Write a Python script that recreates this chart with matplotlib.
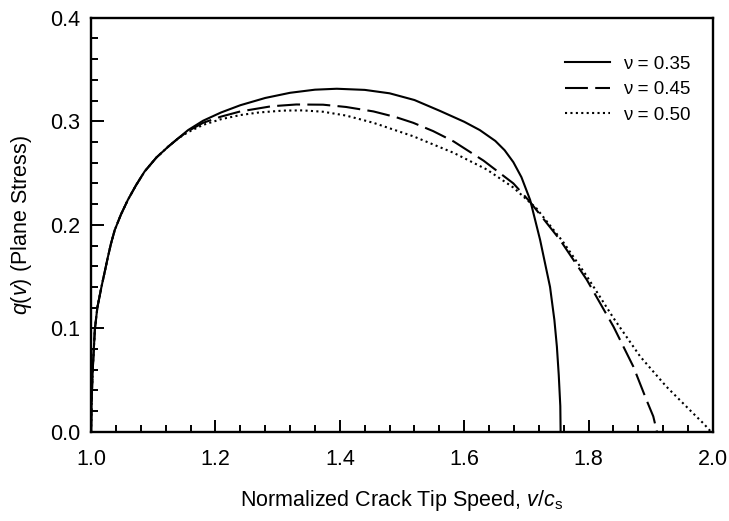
import numpy as np
import matplotlib.pyplot as plt
from matplotlib.ticker import MultipleLocator

plt.rcParams['font.family'] = ['Liberation Sans', 'DejaVu Sans']
plt.rcParams['mathtext.fontset'] = 'custom'
plt.rcParams['mathtext.rm'] = 'Liberation Sans'
plt.rcParams['mathtext.it'] = 'Liberation Sans:italic'

# ---------------------------------------
# Data
# ---------------------------------------

# shared rising branch (all three curves coincide here)
v_start = [1.000, 1.001, 1.003, 1.006, 1.010, 1.0166, 1.022, 1.027, 1.032,
           1.038, 1.048, 1.059, 1.072, 1.086, 1.105, 1.124, 1.140]
q_start = [0.000, 0.035, 0.065, 0.099, 0.120, 0.140, 0.155, 0.169, 0.182,
           0.195, 0.210, 0.224, 0.238, 0.2515, 0.265, 0.2755, 0.2835]

v_035 = [1.156, 1.180, 1.209, 1.240, 1.280, 1.320, 1.360, 1.395, 1.440,
         1.480, 1.520, 1.561, 1.600, 1.625, 1.650, 1.665, 1.679, 1.692,
         1.706, 1.722, 1.738, 1.745, 1.749, 1.752, 1.7545, 1.755]
q_035 = [0.2915, 0.3005, 0.3085, 0.3155, 0.3225, 0.3275, 0.3305, 0.3314,
         0.3303, 0.3270, 0.3205, 0.310, 0.2995, 0.2915, 0.281, 0.272, 0.2605,
         0.246, 0.224, 0.1855, 0.140, 0.108, 0.0824, 0.055, 0.025, 0.000]

v_045 = [1.156, 1.180, 1.209, 1.240, 1.290, 1.330, 1.373, 1.410, 1.454,
         1.490, 1.518, 1.550, 1.583, 1.631, 1.679, 1.706, 1.754, 1.797,
         1.840, 1.872, 1.893, 1.904, 1.908, 1.910]
q_045 = [0.2905, 0.2985, 0.3045, 0.3095, 0.3145, 0.3162, 0.316, 0.3138,
         0.3095, 0.304, 0.2985, 0.2905, 0.2805, 0.262, 0.240, 0.222, 0.1855,
         0.147, 0.1017, 0.063, 0.031, 0.015, 0.005, 0.000]

v_050 = [1.156, 1.180, 1.209, 1.240, 1.270, 1.309, 1.340, 1.373, 1.410,
         1.454, 1.518, 1.583, 1.636, 1.679, 1.716, 1.759, 1.797, 1.840,
         1.883, 1.925, 1.968, 1.985, 1.997]
q_050 = [0.2895, 0.2965, 0.302, 0.306, 0.3085, 0.3103, 0.3105, 0.3092,
         0.3055, 0.2985, 0.2855, 0.2695, 0.2535, 0.236, 0.216, 0.1835,
         0.1505, 0.110, 0.0728, 0.0438, 0.018, 0.008, 0.000]

series = [
    ("ν = 0.35", v_035, q_035, "-"),
    ("ν = 0.45", v_045, q_045, (0, (11, 3.5))),
    ("ν = 0.50", v_050, q_050, (0, (1, 1.6))),
]

# ---------------------------------------
# Plot
# ---------------------------------------

fig = plt.figure(figsize=(7.29, 5.21), dpi=100)
ax = fig.add_axes([0.125, 0.171, 0.853, 0.795])

for label, v, q, ls in series:
    ax.plot(v_start + v, q_start + q, color="black", linestyle=ls,
            linewidth=1.5, label=label)

ax.set_xlim(1.0, 2.0)
ax.set_ylim(0.0, 0.4)
ax.xaxis.set_major_locator(MultipleLocator(0.2))
ax.xaxis.set_minor_locator(MultipleLocator(0.04))
ax.yaxis.set_major_locator(MultipleLocator(0.1))
ax.yaxis.set_minor_locator(MultipleLocator(0.02))
ax.xaxis.set_major_formatter(plt.FormatStrFormatter("%.1f"))
ax.yaxis.set_major_formatter(plt.FormatStrFormatter("%.1f"))

ax.tick_params(which="both", direction="in", top=False, right=False,
               labelsize=15.5, width=1.4)
ax.tick_params(axis="x", which="major", pad=12)
ax.tick_params(axis="y", which="major", pad=8)
ax.tick_params(which="major", length=9)
ax.tick_params(which="minor", length=5)
for s in ax.spines.values():
    s.set_linewidth(1.7)

ax.set_xlabel(r"Normalized Crack Tip Speed, $\mathit{v/c}_\mathrm{s}$",
              fontsize=15.5, labelpad=13)
ax.set_ylabel(r"$\mathit{q(v)}$ (Plane Stress)", fontsize=15.5, labelpad=11)

ax.legend(loc="upper right", bbox_to_anchor=(0.985, 0.94), frameon=False,
          fontsize=13.5, handlelength=2.4, handletextpad=0.7,
          labelspacing=0.45, borderaxespad=0.3)

fig.savefig("out.png", dpi=100)
